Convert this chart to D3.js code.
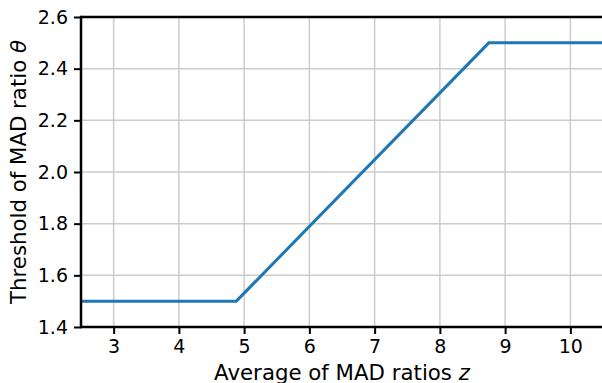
<!DOCTYPE html>
<html>
<head>
<meta charset="utf-8">
<script src="https://cdn.jsdelivr.net/npm/d3@7"></script>
<style>
  html, body { margin: 0; padding: 0; background: #fff; }
  svg { display: block; }
  text { font-family: "DejaVu Sans", sans-serif; fill: #000; }
</style>
</head>
<body>
<script>
// Threshold curve: flat, linear ramp, flat
const zValues = [2.5, 4.88, 8.75, 10.5];
const thetaValues = [1.5, 1.5, 2.5, 2.5];
const xTicks = [3, 4, 5, 6, 7, 8, 9, 10];
const yTicks = [1.4, 1.6, 1.8, 2.0, 2.2, 2.4, 2.6];

const W = 602, H = 383;
const m = { left: 81, top: 17, right: 603, bottom: 327 };

const svg = d3.select("body").append("svg").attr("width", W).attr("height", H);

const x = d3.scaleLinear().domain([2.5, 10.5]).range([m.left, m.right]);
const y = d3.scaleLinear().domain([1.4, 2.6]).range([m.bottom, m.top]);

// grid
const grid = svg.append("g");
grid.selectAll("line.gx").data(xTicks).join("line")
  .attr("x1", d => x(d)).attr("x2", d => x(d))
  .attr("y1", m.top).attr("y2", m.bottom)
  .attr("stroke", "#cccccc").attr("stroke-width", 1.5);
grid.selectAll("line.gy").data(yTicks).join("line")
  .attr("x1", m.left).attr("x2", m.right)
  .attr("y1", d => y(d)).attr("y2", d => y(d))
  .attr("stroke", "#cccccc").attr("stroke-width", 1.5);

// data line
const pts = zValues.map((z, i) => [z, thetaValues[i]]);
svg.append("path").datum(pts)
  .attr("d", d3.line().x(d => x(d[0])).y(d => y(d[1])))
  .attr("fill", "none").attr("stroke", "#1f77b4").attr("stroke-width", 3);

// axes
const xAxis = svg.append("g").attr("transform", `translate(0,${m.bottom})`)
  .call(d3.axisBottom(x).tickValues(xTicks).tickFormat(d3.format("d")).tickSize(7).tickPadding(6));
const yAxis = svg.append("g").attr("transform", `translate(${m.left},0)`)
  .call(d3.axisLeft(y).tickValues(yTicks).tickFormat(d3.format(".1f")).tickSize(7).tickPadding(6));

[xAxis, yAxis].forEach(a => {
  a.select(".domain").remove();
  a.selectAll(".tick line").attr("stroke", "#000").attr("stroke-width", 2);
  a.selectAll(".tick text").attr("font-size", 19).attr("font-family", "DejaVu Sans, sans-serif").attr("fill", "#000");
});

// spines: left, bottom, top
svg.append("line").attr("x1", m.left).attr("x2", m.left).attr("y1", m.top - 1.25).attr("y2", m.bottom + 1.25)
  .attr("stroke", "#000").attr("stroke-width", 2.5);
svg.append("line").attr("x1", m.left).attr("x2", m.right).attr("y1", m.bottom).attr("y2", m.bottom)
  .attr("stroke", "#000").attr("stroke-width", 2.5);
svg.append("line").attr("x1", m.left).attr("x2", m.right).attr("y1", m.top).attr("y2", m.top)
  .attr("stroke", "#000").attr("stroke-width", 2.5);

// axis labels
const xl = svg.append("text").attr("x", (m.left + m.right) / 2).attr("y", 380)
  .attr("text-anchor", "middle").attr("font-size", 21.3);
xl.append("tspan").text("Average of MAD ratios ");
xl.append("tspan").attr("font-style", "italic").text("z");

const yl = svg.append("text")
  .attr("transform", `translate(26,${(m.top + m.bottom) / 2}) rotate(-90)`)
  .attr("text-anchor", "middle").attr("font-size", 21.3);
yl.append("tspan").text("Threshold of MAD ratio ");
yl.append("tspan").attr("font-style", "italic").text("θ");
</script>
</body>
</html>
